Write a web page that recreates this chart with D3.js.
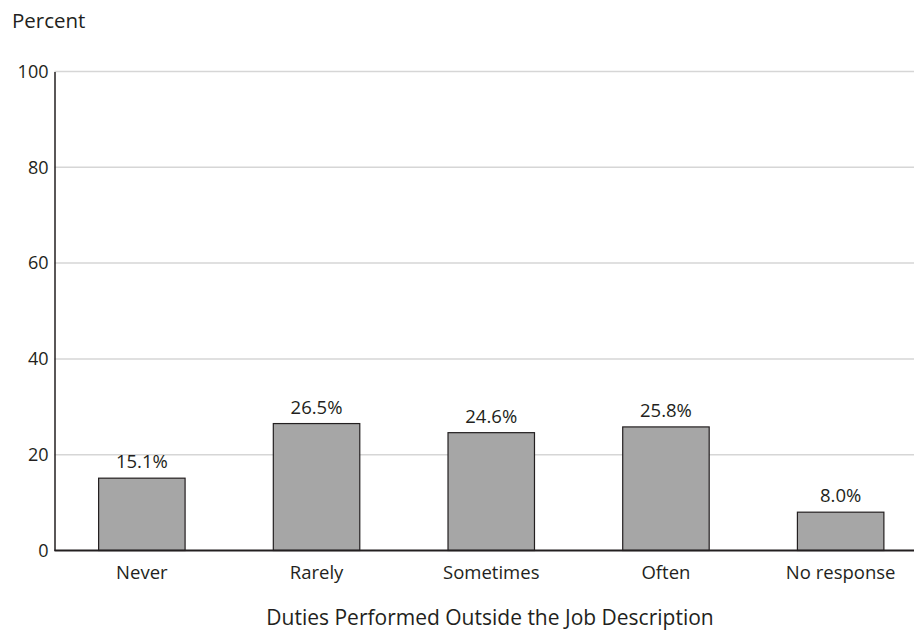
<!DOCTYPE html>
<html>
<head>
<meta charset="utf-8">
<script src="https://cdn.jsdelivr.net/npm/d3@7"></script>
<style>
  html, body { margin: 0; padding: 0; background: #fff; }
  svg { display: block; font-family: "Open Sans", "Noto Sans", sans-serif; }
</style>
</head>
<body>
<svg id="chart" width="914" height="632"></svg>
<script>
// Survey responses: how often duties outside the job description are performed
const categories = ["Never", "Rarely", "Sometimes", "Often", "No response"];
const percents = [15.1, 26.5, 24.6, 25.8, 8.0];
const yTicks = [0, 20, 40, 60, 80, 100];

const svg = d3.select("#chart");
const plotLeft = 54.5, plotTop = 71.5, plotBottom = 550.5, plotRight = 928;
const ink = "#231f20";

const x = d3.scaleBand().domain(categories).range([plotLeft, plotRight]).paddingInner(0.505).paddingOuter(0.2525);
const y = d3.scaleLinear().domain([0, 100]).range([plotBottom, plotTop]);

// Horizontal gridlines
svg.append("g").selectAll("line").data(yTicks.filter(d => d > 0)).join("line")
  .attr("x1", plotLeft).attr("x2", 914)
  .attr("y1", d => y(d)).attr("y2", d => y(d))
  .attr("stroke", "#d6d6d6").attr("stroke-width", 1.5);

// Y axis
const yAxis = svg.append("g").attr("transform", `translate(${plotLeft},0)`)
  .call(d3.axisLeft(y).tickValues(yTicks).tickSize(0).tickPadding(6));
yAxis.select(".domain").attr("stroke", ink).attr("stroke-width", 1.5);
yAxis.selectAll("text").attr("font-size", 18).attr("fill", ink)
  .attr("font-family", "'Open Sans', sans-serif");

// Bars
svg.append("g").selectAll("rect").data(categories).join("rect")
  .attr("x", d => x(d))
  .attr("width", x.bandwidth())
  .attr("y", (d, i) => y(percents[i]))
  .attr("height", (d, i) => y(0) - y(percents[i]))
  .attr("fill", "#a6a6a6")
  .attr("stroke", ink)
  .attr("stroke-width", 1.2);

// Value labels
svg.append("g").selectAll("text").data(categories).join("text")
  .attr("x", d => x(d) + x.bandwidth() / 2)
  .attr("y", (d, i) => y(percents[i]) - 10)
  .attr("text-anchor", "middle")
  .attr("font-size", 18.5)
  .attr("fill", ink)
  .text((d, i) => percents[i].toFixed(1) + "%");

// X axis
const xAxis = svg.append("g").attr("transform", `translate(0,${plotBottom})`)
  .call(d3.axisBottom(x).tickSize(0).tickPadding(15));
xAxis.select(".domain").attr("stroke", ink).attr("stroke-width", 2)
  .attr("d", `M${plotLeft},0H914`);
xAxis.selectAll("text").attr("font-size", 18.5).attr("fill", ink)
  .attr("font-family", "'Open Sans', sans-serif");

// Titles
svg.append("text").attr("x", 12).attr("y", 28)
  .attr("font-size", 20.5).attr("fill", ink).text("Percent");
svg.append("text").attr("x", 490).attr("y", 625).attr("text-anchor", "middle")
  .attr("font-size", 21).attr("fill", ink)
  .text("Duties Performed Outside the Job Description");
</script>
</body>
</html>
